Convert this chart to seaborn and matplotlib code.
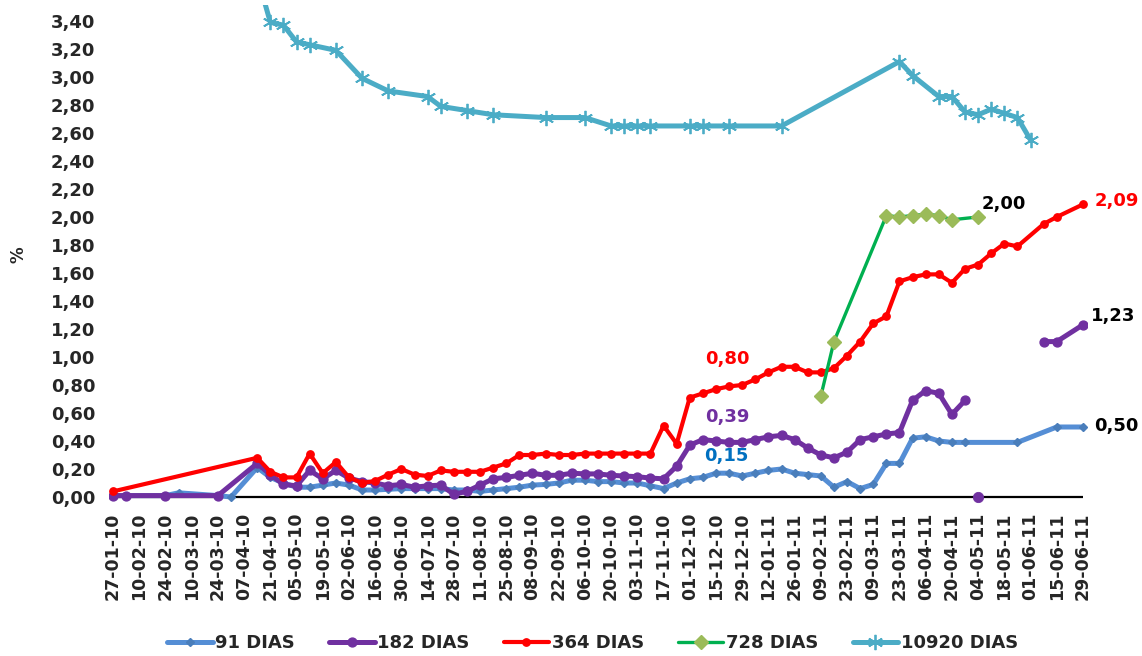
import matplotlib
matplotlib.use("Agg")
import matplotlib.pyplot as plt
import matplotlib.dates as mdates
from matplotlib.lines import Line2D
from matplotlib.ticker import FuncFormatter
import numpy as np
import pandas as pd
import seaborn as sns

# ---- Tasas de interés por plazo (%), fechas de licitación ----
fechas_91 = ["27-01-10", "03-02-10", "24-02-10", "03-03-10", "24-03-10", "31-03-10",
             "14-04-10", "21-04-10", "28-04-10", "05-05-10", "12-05-10", "19-05-10",
             "26-05-10", "02-06-10", "09-06-10", "16-06-10", "23-06-10", "30-06-10",
             "07-07-10", "14-07-10", "21-07-10", "28-07-10", "04-08-10", "11-08-10",
             "18-08-10", "25-08-10", "01-09-10", "08-09-10", "15-09-10", "22-09-10",
             "29-09-10", "06-10-10", "13-10-10", "20-10-10", "27-10-10", "03-11-10",
             "10-11-10", "17-11-10", "24-11-10", "01-12-10", "08-12-10", "15-12-10",
             "22-12-10", "29-12-10", "05-01-11", "12-01-11", "19-01-11", "26-01-11",
             "02-02-11", "09-02-11", "16-02-11", "23-02-11", "02-03-11", "09-03-11",
             "16-03-11", "23-03-11", "30-03-11", "06-04-11", "13-04-11", "20-04-11",
             "27-04-11", "25-05-11", "15-06-11", "29-06-11"]
tasas_91 = [0.01, 0.01, 0.01, 0.03, 0.01, 0.00,
            0.21, 0.14, 0.10, 0.07, 0.07, 0.085,
            0.10, 0.085, 0.05, 0.05, 0.055, 0.06,
            0.06, 0.06, 0.06, 0.05, 0.05, 0.04,
            0.05, 0.06, 0.07, 0.085, 0.09, 0.10,
            0.12, 0.12, 0.11, 0.11, 0.10, 0.10,
            0.08, 0.06, 0.10, 0.13, 0.14, 0.17,
            0.17, 0.15, 0.17, 0.19, 0.20, 0.17,
            0.16, 0.15, 0.07, 0.11, 0.06, 0.09,
            0.24, 0.24, 0.42, 0.43, 0.40, 0.39,
            0.39, 0.39, 0.50, 0.50]

fechas_182_a = ["27-01-10", "03-02-10", "24-02-10", "24-03-10", "14-04-10", "21-04-10",
                "28-04-10", "05-05-10", "12-05-10", "19-05-10", "26-05-10", "02-06-10",
                "09-06-10", "16-06-10", "23-06-10", "30-06-10", "07-07-10", "14-07-10",
                "21-07-10", "28-07-10", "04-08-10", "11-08-10", "18-08-10", "25-08-10",
                "01-09-10", "08-09-10", "15-09-10", "22-09-10", "29-09-10", "06-10-10",
                "13-10-10", "20-10-10", "27-10-10", "03-11-10", "10-11-10", "17-11-10",
                "24-11-10", "01-12-10", "08-12-10", "15-12-10", "22-12-10", "29-12-10",
                "05-01-11", "12-01-11", "19-01-11", "26-01-11", "02-02-11", "09-02-11",
                "16-02-11", "23-02-11", "02-03-11", "09-03-11", "16-03-11", "23-03-11",
                "30-03-11", "06-04-11", "13-04-11", "20-04-11", "27-04-11"]
tasas_182_a = [0.01, 0.01, 0.01, 0.01, 0.24, 0.16,
               0.09, 0.08, 0.19, 0.13, 0.19, 0.135,
               0.11, 0.10, 0.08, 0.09, 0.07, 0.08,
               0.085, 0.02, 0.04, 0.085, 0.13, 0.14,
               0.155, 0.17, 0.155, 0.155, 0.17, 0.165,
               0.165, 0.155, 0.15, 0.145, 0.135, 0.13,
               0.22, 0.37, 0.41, 0.40, 0.39, 0.39,
               0.41, 0.43, 0.44, 0.41, 0.35, 0.30,
               0.28, 0.32, 0.41, 0.43, 0.45, 0.46,
               0.69, 0.76, 0.74, 0.59, 0.69]
fechas_182_b = ["04-05-11"]
tasas_182_b = [0.00]
fechas_182_c = ["08-06-11", "15-06-11", "29-06-11"]
tasas_182_c = [1.11, 1.11, 1.23]

fechas_364 = ["27-01-10", "14-04-10", "21-04-10", "28-04-10", "05-05-10", "12-05-10",
              "19-05-10", "26-05-10", "02-06-10", "09-06-10", "16-06-10", "23-06-10",
              "30-06-10", "07-07-10", "14-07-10", "21-07-10", "28-07-10", "04-08-10",
              "11-08-10", "18-08-10", "25-08-10", "01-09-10", "08-09-10", "15-09-10",
              "22-09-10", "29-09-10", "06-10-10", "13-10-10", "20-10-10", "27-10-10",
              "03-11-10", "10-11-10", "17-11-10", "24-11-10", "01-12-10", "08-12-10",
              "15-12-10", "22-12-10", "29-12-10", "05-01-11", "12-01-11", "19-01-11",
              "26-01-11", "02-02-11", "09-02-11", "16-02-11", "23-02-11", "02-03-11",
              "09-03-11", "16-03-11", "23-03-11", "30-03-11", "06-04-11", "13-04-11",
              "20-04-11", "27-04-11", "04-05-11", "11-05-11", "18-05-11", "25-05-11",
              "08-06-11", "15-06-11", "29-06-11"]
tasas_364 = [0.04, 0.28, 0.18, 0.14, 0.14, 0.31,
             0.17, 0.25, 0.14, 0.10, 0.115, 0.16,
             0.20, 0.16, 0.15, 0.19, 0.18, 0.18,
             0.18, 0.21, 0.24, 0.30, 0.30, 0.31,
             0.30, 0.30, 0.31, 0.31, 0.31, 0.31,
             0.31, 0.31, 0.51, 0.38, 0.71, 0.74,
             0.77, 0.79, 0.80, 0.84, 0.89, 0.93,
             0.93, 0.89, 0.89, 0.92, 1.01, 1.11,
             1.24, 1.29, 1.54, 1.57, 1.59, 1.59,
             1.53, 1.63, 1.66, 1.74, 1.81, 1.79,
             1.95, 2.00, 2.09]

fechas_728 = ["09-02-11", "16-02-11", "16-03-11", "23-03-11", "30-03-11", "06-04-11",
              "13-04-11", "20-04-11", "04-05-11"]
tasas_728 = [0.72, 1.11, 2.01, 2.00, 2.01, 2.02, 2.01, 1.98, 2.00]

fechas_10920 = ["14-04-10", "21-04-10", "28-04-10", "05-05-10", "12-05-10", "26-05-10",
                "09-06-10", "23-06-10", "14-07-10", "21-07-10", "04-08-10", "18-08-10",
                "15-09-10", "06-10-10", "20-10-10", "27-10-10", "03-11-10", "10-11-10",
                "01-12-10", "08-12-10", "22-12-10", "19-01-11", "23-03-11", "30-03-11",
                "13-04-11", "20-04-11", "27-04-11", "04-05-11", "11-05-11", "18-05-11",
                "25-05-11", "01-06-11"]
tasas_10920 = [3.72, 3.39, 3.37, 3.25, 3.23, 3.19,
               2.99, 2.90, 2.86, 2.79, 2.76, 2.73,
               2.71, 2.71, 2.65, 2.65, 2.65, 2.65,
               2.65, 2.65, 2.65, 2.65, 3.11, 3.01,
               2.86, 2.86, 2.75, 2.73, 2.77, 2.74,
               2.71, 2.55]

series_nombres = ["91 DIAS", "182 DIAS", "364 DIAS", "728 DIAS", "10920 DIAS"]
primera_fecha = "27-01-10"
ultima_fecha = "29-06-11"
y_ticks = [round(0.2 * i, 2) for i in range(18)]


def tabla(fechas, tasas):
    return pd.DataFrame({"fecha": pd.to_datetime(fechas, format="%d-%m-%y"),
                         "tasa": tasas})


sns.set_style("white")
plt.rcParams["font.family"] = ["DejaVu Sans"]
plt.rcParams["font.weight"] = "bold"

fig = plt.figure(figsize=(11.42, 6.56), dpi=100)
ax = fig.add_axes([0.0957, 0.2317, 0.8559, 0.7607])

d0 = pd.to_datetime(primera_fecha, format="%d-%m-%y")
d1 = pd.to_datetime(ultima_fecha, format="%d-%m-%y")

# eje horizontal en 0
ax.hlines(0, d0, d1, color="black", lw=1.6, zorder=1)

estilos = {
    "91 DIAS": dict(color="#558ED5", lw=3.6, marker="D", ms=3.6,
                    mfc="#4A7EBB", mec="#4A7EBB"),
    "182 DIAS": dict(color="#7030A0", lw=3.6, marker="o", ms=6.4,
                     mfc="#7030A0", mec="#7030A0"),
    "364 DIAS": dict(color="#FF0000", lw=3.0, marker="o", ms=5.3,
                     mfc="#FF0000", mec="#FF0000"),
    "728 DIAS": dict(color="#00B050", lw=2.4, marker="D", ms=7.5,
                     mfc="#9BBB59", mec="#9BBB59"),
    "10920 DIAS": dict(color="#4BACC6", lw=3.6, marker=(6, 2, 0), ms=11,
                       mfc="#4BACC6", mec="#4BACC6", mew=1.3),
}

datos = [
    ("91 DIAS", tabla(fechas_91, tasas_91)),
    ("182 DIAS", tabla(fechas_182_a, tasas_182_a)),
    ("182 DIAS", tabla(fechas_182_c, tasas_182_c)),
    ("364 DIAS", tabla(fechas_364, tasas_364)),
    ("728 DIAS", tabla(fechas_728, tasas_728)),
    ("10920 DIAS", tabla(fechas_10920, tasas_10920)),
]

for z, (nombre, df) in enumerate(datos):
    st = estilos[nombre]
    sns.lineplot(data=df, x="fecha", y="tasa", ax=ax, estimator=None, sort=False,
                 color=st["color"], linewidth=st["lw"], marker=st["marker"],
                 markersize=st["ms"], markerfacecolor=st["mfc"],
                 markeredgecolor=st["mec"], markeredgewidth=st.get("mew", 1.0),
                 zorder=3 + z, legend=False)

# punto aislado de 182 días
df_b = tabla(fechas_182_b, tasas_182_b)
sns.scatterplot(data=df_b, x="fecha", y="tasa", ax=ax, color="#7030A0", s=55,
                edgecolor="#7030A0", zorder=4, legend=False, clip_on=False)

# ejes
ax.set_xlim(d0 - pd.Timedelta(days=2), d1 + pd.Timedelta(days=2))
ax.set_ylim(-0.05, 3.514)
for sp in ax.spines.values():
    sp.set_visible(False)

xt = pd.date_range(d0, d1, freq="14D")
ax.set_xticks(xt)
ax.xaxis.set_major_formatter(mdates.DateFormatter("%d-%m-%y"))
ax.tick_params(axis="x", length=0, pad=6, labelsize=12.5, rotation=90)
ax.set_yticks(y_ticks)
ax.yaxis.set_major_formatter(FuncFormatter(lambda v, p: f"{v:.2f}".replace(".", ",")))
ax.tick_params(axis="y", length=0, pad=10, labelsize=13)
for lab in ax.get_xticklabels() + ax.get_yticklabels():
    lab.set_fontweight("bold")
ax.set_xlabel("")
ax.set_ylabel("")
fig.text(0.016, 0.611, "%", rotation=90, ha="center", va="center",
         fontsize=12, fontweight="bold")


# etiquetas de valores
def etiqueta(df, fecha, color, dx, dy):
    fila = df[df["fecha"] == pd.to_datetime(fecha, format="%d-%m-%y")].iloc[0]
    ax.annotate(f"{fila['tasa']:.2f}".replace(".", ","), xy=(fila["fecha"], fila["tasa"]),
                xytext=(dx, dy), textcoords="offset pixels", ha="center", va="center",
                fontsize=13, fontweight="bold", color=color, zorder=20)


etiqueta(tabla(fechas_364, tasas_364), "29-12-10", "#FF0000", -15, 26)
etiqueta(tabla(fechas_182_a, tasas_182_a), "29-12-10", "#7030A0", -15, 25)
etiqueta(tabla(fechas_91, tasas_91), "29-12-10", "#0070C0", -16, 20)
etiqueta(tabla(fechas_728, tasas_728), "04-05-11", "black", 26, 13)
etiqueta(tabla(fechas_364, tasas_364), "29-06-11", "#FF0000", 34, 3)
etiqueta(tabla(fechas_182_c, tasas_182_c), "29-06-11", "black", 30, 9)
etiqueta(tabla(fechas_91, tasas_91), "29-06-11", "black", 33, 1)

# leyenda
handles = []
for nombre in series_nombres:
    st = estilos[nombre]
    handles.append(Line2D([], [], color=st["color"], lw=st["lw"], marker=st["marker"],
                          markersize=st["ms"], markerfacecolor=st["mfc"],
                          markeredgecolor=st["mec"], markeredgewidth=st.get("mew", 1.0)))
fig.legend(handles, series_nombres, loc="center", bbox_to_anchor=(0.519, 0.02),
           ncol=5, frameon=False, handlelength=2.5, handletextpad=0.15,
           columnspacing=1.9, prop={"weight": "bold", "size": 13})

fig.savefig("out.png", dpi=100)
